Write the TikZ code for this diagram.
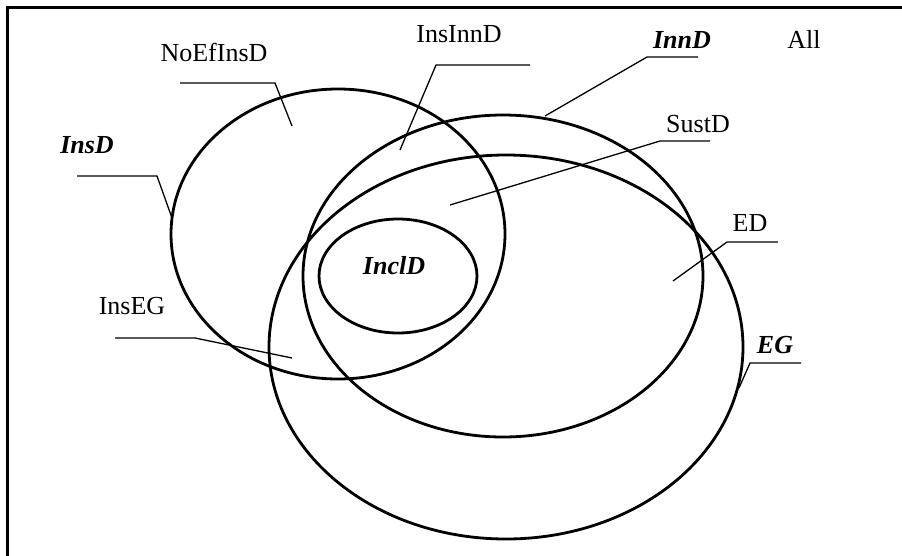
\documentclass[tikz,border=0pt]{standalone}
\usepackage{fontspec}
\setmainfont{Liberation Serif}
\usetikzlibrary{shapes.geometric}
\begin{document}
\begin{tikzpicture}[x=1pt,y=-1pt,
  setshape/.style={draw, ellipse, line width=2.8pt, inner sep=0pt},
  lbl/.style={font=\fontsize{26}{31}\selectfont, inner sep=0pt, anchor=base},
  blbl/.style={lbl, font=\fontsize{26}{31}\selectfont\bfseries\itshape},
  leader/.style={line width=1.3pt}]
\useasboundingbox (0,0) rectangle (902,555);
% frame
\coordinate (fbl) at (7,556);
\coordinate (ftl) at (7,7);
\coordinate (ftr) at (903,7);
\draw[line width=3pt] (fbl) -- (ftl) -- (ftr);
% sets
\node[setshape, minimum width=334pt, minimum height=290pt] (insd) at (338,234) {};
\node[setshape, minimum width=400pt, minimum height=322pt] (innd) at (503,276) {};
\node[setshape, minimum width=474pt, minimum height=384pt] (eg) at (506,347) {};
\node[setshape, minimum width=158pt, minimum height=114pt] (incld) at (398,276) {};
% labels
\node[lbl] (tnoef) at (214,61) {NoEfInsD};
\node[lbl] (tinsinn) at (459,42) {InsInnD};
\node[blbl] (tinnd) at (682,48) {InnD};
\node[lbl] (tall) at (804,48) {All};
\node[lbl] (tsust) at (698,132) {SustD};
\node[lbl] (ted) at (750,231) {ED};
\node[blbl] (teg) at (775,353) {EG};
\node[blbl] (tinsd) at (87,153) {InsD};
\node[lbl] (tinseg) at (132,314) {InsEG};
\node[blbl] (tincld) at (394,274) {InclD};
% leader coordinates
\coordinate (noefa) at (180,83);  \coordinate (noefb) at (275,83);  \coordinate (noefc) at (292,126);
\coordinate (insinna) at (530,65); \coordinate (insinnb) at (436,65); \coordinate (insinnc) at (400,150);
\coordinate (innda) at (698,57);  \coordinate (inndb) at (647,57);  \coordinate (inndc) at (545,116);
\coordinate (susta) at (710,141); \coordinate (sustb) at (660,141); \coordinate (sustc) at (450,205);
\coordinate (eda) at (778,242);   \coordinate (edb) at (727,242);   \coordinate (edc) at (673,281);
\coordinate (ega) at (801,363);   \coordinate (egb) at (750,363);   \coordinate (egc) at (739,388);
\coordinate (insda) at (77,176);  \coordinate (insdb) at (157,176); \coordinate (insdc) at (172,218);
\coordinate (insega) at (115,338); \coordinate (insegb) at (195,338); \coordinate (insegc) at (292,358);
% leaders
\draw[leader] (noefa) -- (noefb) -- (noefc);
\draw[leader] (insinna) -- (insinnb) -- (insinnc);
\draw[leader] (innda) -- (inndb) -- (inndc);
\draw[leader] (susta) -- (sustb) -- (sustc);
\draw[leader] (eda) -- (edb) -- (edc);
\draw[leader] (ega) -- (egb) -- (egc);
\draw[leader] (insda) -- (insdb) -- (insdc);
\draw[leader] (insega) -- (insegb) -- (insegc);
\end{tikzpicture}
\end{document}
